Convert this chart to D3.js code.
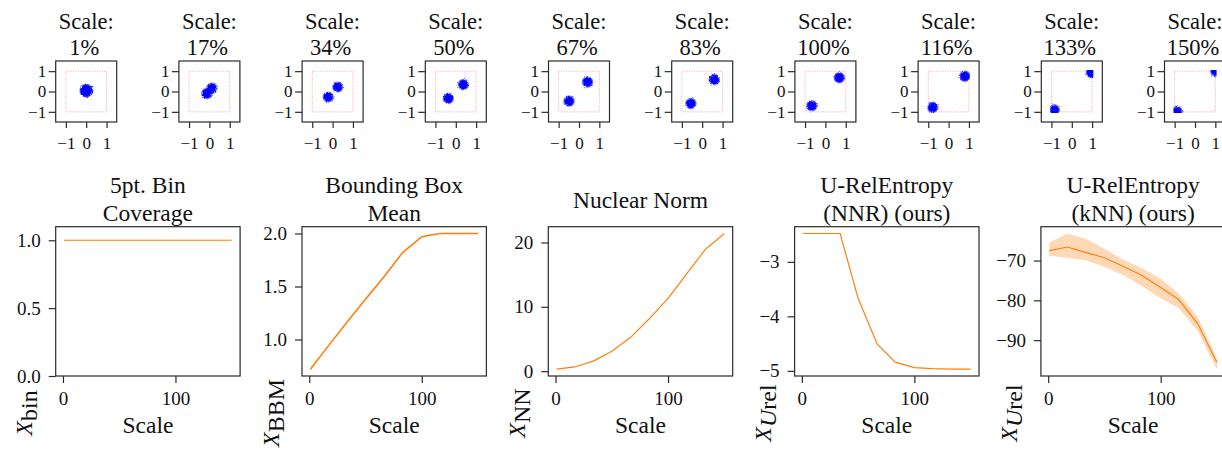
<!DOCTYPE html>
<html>
<head>
<meta charset="utf-8">
<title>Scale sweep</title>
<script src="https://cdnjs.cloudflare.com/ajax/libs/d3/7.8.5/d3.min.js"></script>
<style>
  body { margin: 0; background: #fff; }
  .serif { font-family: "Liberation Serif"; fill: #111; }
</style>
</head>
<body>
<div id="chart"></div>
<script>

// top row: one scatter per scale, two blobs each (centres)
var scales = [1, 17, 34, 50, 67, 83, 100, 116, 133, 150];
var scaleLabels = ["1%", "17%", "34%", "50%", "67%", "83%", "100%", "116%", "133%", "150%"];
var clusterLow  = [[0.0, 0.03], [-0.13, -0.1], [-0.22, -0.27], [-0.37, -0.34], [-0.49, -0.47],
                   [-0.56, -0.59], [-0.67, -0.7], [-0.78, -0.78], [-0.86, -0.9], [-0.89, -0.99]];
var clusterHigh = [[0.02, 0.05], [0.12, 0.16], [0.25, 0.22], [0.37, 0.34], [0.42, 0.47],
                   [0.59, 0.59], [0.68, 0.68], [0.8, 0.75], [0.96, 0.93], [1.02, 1.01]];
var clusterRadius = [0.36, 0.31, 0.3, 0.31, 0.31, 0.31, 0.31, 0.31, 0.31, 0.31];
var scatterTicks = [-1, 0, 1];

// bottom row: metric vs scale
var binCoverage = [1, 1, 1, 1, 1, 1, 1, 1, 1, 1];
var bbmValues = [0.72, 0.94, 1.17, 1.38, 1.6, 1.82, 1.97, 2.0, 2.0, 2.0];
var nnValues = [0.3, 0.65, 1.6, 3.1, 5.3, 8.1, 11.3, 15.0, 18.9, 21.4];
var nnrValues = [-2.48, -2.48, -2.48, -3.67, -4.51, -4.84, -4.94, -4.96, -4.97, -4.97];
var knnValues = [-67.5, -66.6, -68.0, -69.3, -71.5, -73.7, -76.8, -79.8, -85.9, -95.6];
var knnUpper  = [-65.5, -63.2, -64.6, -67.1, -69.8, -71.9, -74.6, -78.3, -84.2, -94.6];
var knnLower  = [-68.8, -69.3, -70.0, -71.6, -73.7, -76.3, -79.5, -81.9, -87.7, -97.3];

var panelTitles = [["5pt. Bin", "Coverage"], ["Bounding Box", "Mean"], ["Nuclear Norm"],
                   ["U-RelEntropy", "(NNR) (ours)"], ["U-RelEntropy", "(kNN) (ours)"]];
var panelSubs = [["bin"], ["BBM"], ["NN"], ["U", "rel"], ["U", "rel"]];
var panelYTicks = [[0, 0.5, 1.0], [1.0, 1.5, 2.0], [0, 10, 20], [-5, -4, -3], [-90, -80, -70]];
var panelYFormat = [".1f", ".1f", "d", "d", "d"];
var xTicks = [0, 100];

var panels = [
  {values: binCoverage, ylim: [0, 1.1]},
  {values: bbmValues},
  {values: nnValues},
  {values: nnrValues},
  {values: knnValues, upper: knnUpper, lower: knnLower}
];

var W = 1222, H = 449;
var orange = "#ff7f0e", frameColor = "#2b2b2b";

var svg = d3.select("#chart").append("svg")
    .attr("width", W).attr("height", H);

var defs = svg.append("defs");

// soft-edged blob to stand in for a dense point cloud
var grad = defs.append("radialGradient").attr("id", "blob");
[[0, 1], [0.62, 1], [0.8, 0.6], [1, 0]].forEach(function(s) {
  grad.append("stop").attr("offset", s[0]).attr("stop-color", "#0000ff").attr("stop-opacity", s[1]);
});
// ragged edge
var rough = defs.append("filter").attr("id", "rough")
    .attr("x", "-30%").attr("y", "-30%").attr("width", "160%").attr("height", "160%");
rough.append("feTurbulence").attr("type", "fractalNoise")
    .attr("baseFrequency", 0.9).attr("numOctaves", 2).attr("seed", 3).attr("result", "noise");
rough.append("feDisplacementMap").attr("in", "SourceGraphic").attr("in2", "noise")
    .attr("scale", 3).attr("xChannelSelector", "R").attr("yChannelSelector", "G");

function frame(g, w, h) {
  g.append("rect")
    .attr("width", w).attr("height", h)
    .attr("fill", "none")
    .attr("stroke", frameColor).attr("stroke-width", 1.2);
}

function styleAxis(g, size) {
  g.attr("font-family", null).attr("font-size", null);
  g.select(".domain").remove();
  g.selectAll(".tick line").attr("stroke", frameColor).attr("stroke-width", 1.2);
  g.selectAll(".tick text")
    .attr("class", "serif")
    .attr("fill", "#111")
    .style("font-size", size + "px");
}

// ---- top row ----
var topLeft = 55.7, topStep = 123.2, topSize = 61, topY = 61;

scales.forEach(function(s, i) {
  var g = svg.append("g").attr("transform", "translate(" + (topLeft + i * topStep) + "," + topY + ")");
  var x = d3.scaleLinear().domain([-1.5, 1.5]).range([0, topSize]);
  var y = d3.scaleLinear().domain([-1.5, 1.5]).range([topSize, 0]);

  g.append("clipPath").attr("id", "clip" + i)
    .append("rect")
    .attr("x", x(-1.06)).attr("y", y(1.06))
    .attr("width", x(1.06) - x(-1.06)).attr("height", y(-1.06) - y(1.06));

  g.append("rect")
    .attr("x", x(-1)).attr("y", y(1))
    .attr("width", x(1) - x(-1)).attr("height", y(-1) - y(1))
    .attr("fill", "none")
    .attr("stroke", "#ff0000").attr("stroke-opacity", 0.3)
    .attr("stroke-width", 1).attr("stroke-dasharray", "1.2,1.2");

  g.append("g").attr("clip-path", "url(#clip" + i + ")")
    .append("g").attr("filter", "url(#rough)")
    .selectAll("circle")
    .data([clusterLow[i], clusterHigh[i]])
    .join("circle")
    .attr("cx", function(c) { return x(c[0]); })
    .attr("cy", function(c) { return y(c[1]); })
    .attr("r", x(clusterRadius[i]) - x(0))
    .attr("fill", "url(#blob)");

  frame(g, topSize, topSize);

  g.append("g").attr("transform", "translate(0," + topSize + ")")
    .call(d3.axisBottom(x).tickValues(scatterTicks).tickSize(6).tickPadding(9).tickFormat(d3.format("d")))
    .call(styleAxis, 17);
  g.append("g")
    .call(d3.axisLeft(y).tickValues(scatterTicks).tickSize(7).tickPadding(2.5).tickFormat(d3.format("d")))
    .call(styleAxis, 17);

  var t = g.append("text").attr("class", "serif").attr("text-anchor", "middle").style("font-size", "22.5px");
  t.append("tspan").attr("x", topSize / 2).attr("y", 28.5 - topY).text("Scale:");
  t.append("tspan").attr("x", topSize / 2 - 2).attr("y", 55 - topY).text(scaleLabels[i]);
});

// ---- bottom row ----
var botLeft = 55.7, botStep = 246.3, botW = 184.4, botTop = 226.7, botH = 149.3;

panels.forEach(function(p, i) {
  var g = svg.append("g").attr("transform", "translate(" + (botLeft + i * botStep) + "," + botTop + ")");

  var xPad = (d3.max(scales) - d3.min(scales)) * 0.05;
  var x = d3.scaleLinear().domain([d3.min(scales) - xPad, d3.max(scales) + xPad]).range([0, botW]);

  var lo = d3.min(p.lower || p.values), hi = d3.max(p.upper || p.values);
  var yPad = (hi - lo) * 0.05;
  var y = d3.scaleLinear().domain(p.ylim || [lo - yPad, hi + yPad]).range([botH, 0]);

  if (p.upper) {
    var area = d3.area()
      .x(function(d, k) { return x(scales[k]); })
      .y0(function(d, k) { return y(p.lower[k]); })
      .y1(function(d, k) { return y(p.upper[k]); });
    g.append("path").datum(p.values)
      .attr("d", area)
      .attr("fill", orange).attr("fill-opacity", 0.3);
  }

  var line = d3.line()
    .x(function(d, k) { return x(scales[k]); })
    .y(function(d) { return y(d); });
  g.append("path").datum(p.values)
    .attr("d", line)
    .attr("fill", "none")
    .attr("stroke", orange).attr("stroke-width", i == 1 ? 1.6 : 1.2);

  frame(g, botW, botH);

  g.append("g").attr("transform", "translate(0," + botH + ")")
    .call(d3.axisBottom(x).tickValues(xTicks).tickSize(7).tickPadding(8.5).tickFormat(d3.format("d")))
    .call(styleAxis, 19);
  g.append("g")
    .call(d3.axisLeft(y).tickValues(panelYTicks[i]).tickSize(7).tickPadding(8).tickFormat(d3.format(panelYFormat[i])))
    .call(styleAxis, 19);

  // title, one or two lines
  var lines = panelTitles[i];
  var base = lines.length == 1 ? [207.5] : [193, 220.5];
  var t = g.append("text").attr("class", "serif").attr("text-anchor", "middle").style("font-size", "23.5px");
  lines.forEach(function(s, k) {
    t.append("tspan").attr("x", botW / 2).attr("y", base[k] - botTop).text(s);
  });

  g.append("text").attr("class", "serif")
    .attr("x", botW / 2).attr("y", 433.3 - botTop)
    .attr("text-anchor", "middle").style("font-size", "23.5px")
    .text("Scale");

  // y label sits low and to the left, as in the original
  var yl = g.append("text").attr("class", "serif")
    .attr("transform", "translate(-23.5," + (413 - botTop) + ") rotate(-90)")
    .attr("text-anchor", "middle").style("font-size", "24px");
  yl.append("tspan").style("font-style", "italic").text("X");
  var sub = panelSubs[i];
  if (sub.length == 2) {
    yl.append("tspan").attr("dy", 5).style("font-style", "italic").text(sub[0]);
    yl.append("tspan").text(sub[1]);
  } else {
    yl.append("tspan").attr("dy", 5).text(sub[0]);
  }
});

</script>
</body>
</html>
